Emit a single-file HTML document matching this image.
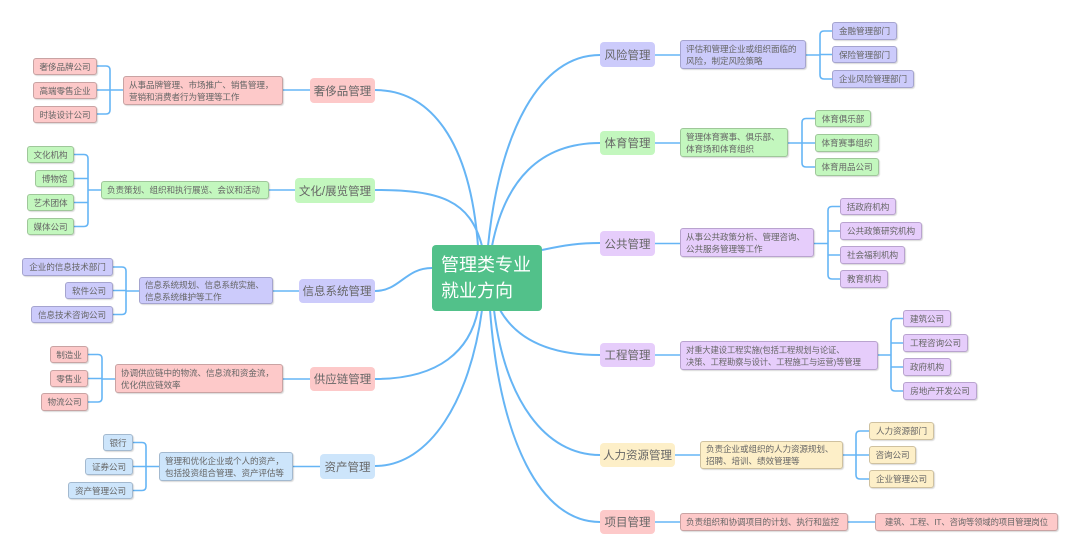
<!DOCTYPE html>
<html><head><meta charset="utf-8"><style>
*{margin:0;padding:0;box-sizing:border-box}
body{width:1080px;height:556px;background:#fff;position:relative;overflow:hidden;font-family:"Liberation Sans","Noto Sans CJK SC",sans-serif;color:#666}
.n{position:absolute;display:flex;align-items:center;justify-content:center;white-space:nowrap}
.m{font-size:11.5px;border-radius:4px}
.d{font-size:8.6px;line-height:12px;border-radius:3px;border:1px solid #aaa;box-shadow:1px 1px 1px rgba(0,0,0,.15);justify-content:flex-start;padding-left:5px;letter-spacing:-0.1px}
.l{font-size:8.6px;border-radius:3px;border:1px solid #aaa;box-shadow:1px 1px 1px rgba(0,0,0,.15);letter-spacing:-0.1px}
.pk{background:#fdc9c9}.pk.d,.pk.l{border-color:#c9a3a3}
.gr{background:#c3f7be}.gr.d,.gr.l{border-color:#9fc79a}
.bp{background:#cccbfb}.bp.d,.bp.l{border-color:#a5a4cf}
.lb{background:#cde5fb}.lb.d,.lb.l{border-color:#a3b9cf}
.li{background:#e6cdfb}.li.d,.li.l{border-color:#b9a3cf}
.ye{background:#fdefc8}.ye.d,.ye.l{border-color:#cfc19f}
svg{position:absolute;left:0;top:0}
</style></head><body>
<svg width="1080" height="556" fill="none" stroke="#66b5f5" stroke-width="1.6">
<g stroke-width="2">
<path d="M478 246 C470 140 430 90 375 90"/>
<path d="M482 246 C470 200 440 190 375 190"/>
<path d="M432 268 C405 268 400 291 375 291"/>
<path d="M478 310 C470 350 440 379 375 379"/>
<path d="M482 310 C470 400 430 466 375 466"/>
<path d="M488 246 C500 130 540 55 600 55"/>
<path d="M492 246 C505 180 540 143 600 143"/>
<path d="M542 250 C565 245 580 243 600 243"/>
<path d="M500 310 C520 345 560 355 600 355"/>
<path d="M494 310 C505 400 545 455 600 455"/>
<path d="M490 310 C500 440 540 522 600 522"/>
</g>
<path d="M283 90H310M123 90H110M97 66H106Q110 66 110 70V110Q110 114 106 114H97M97 90H110"/>
<path d="M269 190H295M101 190H88M74 154.5H84Q88 154.5 88 158.5V222.5Q88 226.5 84 226.5H74M74 178.5H88M74 202.5H88"/>
<path d="M273 291H299M139 291H126M113 267H122Q126 267 126 271V310.5Q126 314.5 122 314.5H113M113 290.5H126"/>
<path d="M283 379H310M115 379H102M88 354.5H98Q102 354.5 102 358.5V398Q102 402 98 402H88M88 378.5H102"/>
<path d="M293 466.5H320M159 466.5H146M133 442.5H142Q146 442.5 146 446.5V486.5Q146 490.5 142 490.5H133M133 466.5H146"/>
<path d="M655 55H680M806 55H820M832 31H824Q820 31 820 35V75Q820 79 824 79H832M832 54.5H820"/>
<path d="M655 143H680M788 143H802M815 118.5H806Q802 118.5 802 122.5V163Q802 167 806 167H815M815 143H802"/>
<path d="M655 243.5H680M814 243.5H828M840 206.5H832Q828 206.5 828 210.5V275Q828 279 832 279H840M840 231H828M840 255H828"/>
<path d="M655 355H680M878 355H891M903 318.5H895Q891 318.5 891 322.5V387Q891 391 895 391H903M903 343H891M903 367H891"/>
<path d="M675 455H700M843 455H856M869 431H860Q856 431 856 435V475Q856 479 860 479H869M869 455H856"/>
<path d="M655 522H680M848 522H875"/>
</svg>
<div class="n" style="left:432px;top:245px;width:110px;height:66px;background:#52c18a;border-radius:4px;color:#fff;font-size:18px;line-height:26px;justify-content:flex-start;padding-left:9px;white-space:normal">管理类专业<br>就业方向</div>

<div class="n m pk" style="left:310px;top:78px;width:65px;height:25px">奢侈品管理</div>
<div class="n d pk" style="left:123px;top:76px;width:160px;height:29px">从事品牌管理、市场推广、销售管理，<br>营销和消费者行为管理等工作</div>
<div class="n l pk" style="left:33px;top:58px;width:64px;height:17px">奢侈品牌公司</div>
<div class="n l pk" style="left:33px;top:82px;width:64px;height:17px">高端零售企业</div>
<div class="n l pk" style="left:33px;top:106px;width:64px;height:17px">时装设计公司</div>

<div class="n m gr" style="left:295px;top:178px;width:80px;height:25px">文化/展览管理</div>
<div class="n d gr" style="left:101px;top:181px;width:168px;height:18px">负责策划、组织和执行展览、会议和活动</div>
<div class="n l gr" style="left:27px;top:146px;width:47px;height:17px">文化机构</div>
<div class="n l gr" style="left:35px;top:170px;width:39px;height:17px">博物馆</div>
<div class="n l gr" style="left:27px;top:194px;width:47px;height:17px">艺术团体</div>
<div class="n l gr" style="left:27px;top:218px;width:47px;height:17px">媒体公司</div>

<div class="n m bp" style="left:299px;top:279px;width:76px;height:24px">信息系统管理</div>
<div class="n d bp" style="left:139px;top:277px;width:134px;height:27px">信息系统规划、信息系统实施、<br>信息系统维护等工作</div>
<div class="n l bp" style="left:22px;top:258px;width:91px;height:18px">企业的信息技术部门</div>
<div class="n l bp" style="left:65px;top:282px;width:48px;height:17px">软件公司</div>
<div class="n l bp" style="left:31px;top:306px;width:82px;height:17px">信息技术咨询公司</div>

<div class="n m pk" style="left:310px;top:367px;width:65px;height:24px">供应链管理</div>
<div class="n d pk" style="left:115px;top:364px;width:168px;height:29px">协调供应链中的物流、信息流和资金流，<br>优化供应链效率</div>
<div class="n l pk" style="left:50px;top:346px;width:38px;height:17px">制造业</div>
<div class="n l pk" style="left:50px;top:370px;width:38px;height:17px">零售业</div>
<div class="n l pk" style="left:41px;top:393px;width:47px;height:18px">物流公司</div>

<div class="n m lb" style="left:320px;top:454px;width:55px;height:25px">资产管理</div>
<div class="n d lb" style="left:159px;top:452px;width:134px;height:29px">管理和优化企业或个人的资产，<br>包括投资组合管理、资产评估等</div>
<div class="n l lb" style="left:103px;top:434px;width:30px;height:17px">银行</div>
<div class="n l lb" style="left:85px;top:458px;width:48px;height:17px">证券公司</div>
<div class="n l lb" style="left:68px;top:482px;width:65px;height:17px">资产管理公司</div>

<div class="n m bp" style="left:600px;top:42px;width:55px;height:25px">风险管理</div>
<div class="n d bp" style="left:680px;top:40px;width:126px;height:29px">评估和管理企业或组织面临的<br>风险，制定风险策略</div>
<div class="n l bp" style="left:832px;top:22px;width:65px;height:18px">金融管理部门</div>
<div class="n l bp" style="left:832px;top:46px;width:65px;height:17px">保险管理部门</div>
<div class="n l bp" style="left:832px;top:70px;width:82px;height:18px">企业风险管理部门</div>

<div class="n m gr" style="left:600px;top:131px;width:55px;height:24px">体育管理</div>
<div class="n d gr" style="left:680px;top:128px;width:108px;height:29px">管理体育赛事、俱乐部、<br>体育场和体育组织</div>
<div class="n l gr" style="left:815px;top:110px;width:56px;height:17px">体育俱乐部</div>
<div class="n l gr" style="left:815px;top:134px;width:64px;height:18px">体育赛事组织</div>
<div class="n l gr" style="left:815px;top:158px;width:64px;height:18px">体育用品公司</div>

<div class="n m li" style="left:600px;top:231px;width:55px;height:25px">公共管理</div>
<div class="n d li" style="left:680px;top:228px;width:134px;height:29px">从事公共政策分析、管理咨询、<br>公共服务管理等工作</div>
<div class="n l li" style="left:840px;top:198px;width:56px;height:17px">括政府机构</div>
<div class="n l li" style="left:840px;top:222px;width:82px;height:18px">公共政策研究机构</div>
<div class="n l li" style="left:840px;top:246px;width:65px;height:18px">社会福利机构</div>
<div class="n l li" style="left:840px;top:270px;width:48px;height:18px">教育机构</div>

<div class="n m li" style="left:600px;top:343px;width:55px;height:24px">工程管理</div>
<div class="n d li" style="left:680px;top:341px;width:198px;height:29px;font-size:8.3px">对重大建设工程实施(包括工程规划与论证、<br>决策、工程勘察与设计、工程施工与运营)等管理</div>
<div class="n l li" style="left:903px;top:310px;width:48px;height:17px">建筑公司</div>
<div class="n l li" style="left:903px;top:334px;width:65px;height:18px">工程咨询公司</div>
<div class="n l li" style="left:903px;top:358px;width:48px;height:18px">政府机构</div>
<div class="n l li" style="left:903px;top:382px;width:74px;height:18px">房地产开发公司</div>

<div class="n m ye" style="left:600px;top:443px;width:75px;height:24px">人力资源管理</div>
<div class="n d ye" style="left:700px;top:441px;width:143px;height:28px">负责企业或组织的人力资源规划、<br>招聘、培训、绩效管理等</div>
<div class="n l ye" style="left:869px;top:422px;width:65px;height:18px">人力资源部门</div>
<div class="n l ye" style="left:869px;top:446px;width:47px;height:18px">咨询公司</div>
<div class="n l ye" style="left:869px;top:470px;width:65px;height:18px">企业管理公司</div>

<div class="n m pk" style="left:600px;top:510px;width:55px;height:24px">项目管理</div>
<div class="n d pk" style="left:680px;top:513px;width:168px;height:18px">负责组织和协调项目的计划、执行和监控</div>
<div class="n l pk" style="left:875px;top:513px;width:183px;height:18px;font-size:8.3px">建筑、工程、IT、咨询等领域的项目管理岗位</div>
</body></html>
